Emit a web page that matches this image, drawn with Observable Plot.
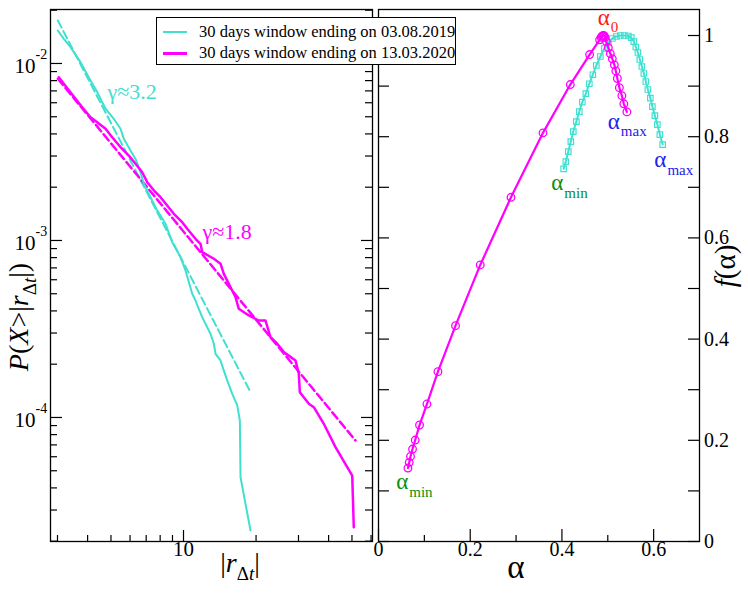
<!DOCTYPE html>
<html><head><meta charset="utf-8">
<script src="https://cdn.jsdelivr.net/npm/d3@7"></script>
<script src="https://cdn.jsdelivr.net/npm/@observablehq/plot@0.6"></script>
<style>
body{margin:0;background:#fff;}
#wrap{position:relative;width:748px;height:594px;background:#fff;font-family:"Liberation Serif","Times New Roman",serif;overflow:hidden;}
#wrap svg{position:absolute;top:0;overflow:visible;font-family:"Liberation Serif","Times New Roman",serif;}
#wrap svg text{font-family:"Liberation Serif","Times New Roman",serif;}
#legend{position:absolute;left:156px;top:17px;width:300px;height:48px;box-sizing:border-box;border:1.3px solid #000;background:#fff;font-family:"Liberation Serif","Times New Roman",serif;font-size:16.5px;}
.row{position:absolute;left:0;height:20px;width:100%;}
.sw{position:absolute;left:6px;width:24px;top:9px;}
.lt{position:absolute;left:42px;top:0;line-height:20px;white-space:nowrap;}
</style></head>
<body>
<div id="wrap"></div>
<script>
// ---------- data ----------
const series = ["30 days window ending on 03.08.2019", "30 days window ending on 13.03.2020"];
const CYAN = "#40E0D0", MAG = "#FF00FF";

// left panel: complementary cumulative distribution
const cdfX_2019 = [3.009,3.186,3.398,3.737,4.113,4.385,4.747,5.137,5.478,5.652,6.028,6.322,6.631,6.843,7.295,7.776,8.42,8.978,9.717,10.19,10.87,11.21,11.57,11.96,12.34,12.94,13.36,13.58,14.24,14.70,15.18,15.93,16.71,17.13,17.24,18.08,18.97];
const cdfP_2019 = [0.01536,0.01378,0.01236,0.01017,0.00802,0.00689,0.00555,0.00487,0.00428,0.00376,0.00322,0.00289,0.00243,0.00209,0.001756,0.00148,0.001243,0.000978,0.000805,0.000677,0.0005,0.000458,0.000411,0.000369,0.000338,0.000297,0.000261,0.000229,0.00021,0.000184,0.000162,0.000136,0.000117,9.62e-5,4.60e-5,3.25e-5,2.30e-5];
const cdfX_2020 = [3.038,3.186,3.564,3.799,4.113,4.385,4.747,5.059,5.478,5.93,6.322,6.739,7.07,7.529,8.027,8.557,9.116,9.876,10.36,11.21,11.76,11.96,13.36,14.24,14.70,15.42,16.44,16.96,18.66,20.53,21.89,22.96,24.48,26.08,29.15,30.09,30.38,33.11,34.73,38.21,42.72,50.12,50.88];
const cdfP_2020 = [0.00837,0.00768,0.00632,0.00566,0.00497,0.00466,0.00428,0.00383,0.00337,0.00302,0.00271,0.00243,0.002135,0.00192,0.001756,0.001577,0.001415,0.001269,0.001164,0.001022,0.000958,0.000859,0.000788,0.000739,0.000648,0.000569,0.000478,0.000411,0.000377,0.000353,0.000353,0.000284,0.000261,0.000234,0.00021,0.000177,0.000139,0.0001195,0.0001143,9.21e-5,6.80e-5,4.70e-5,2.40e-5];
// power-law fits (end points)
const fitX_2019 = [3.009, 18.97], fitP_2019 = [0.0175, 0.000139];
const fitX_2020 = [3.01, 51.7],  fitP_2020 = [0.0082, 7.41e-5];

// right panel: multifractal spectrum
const alpha_2019 = [0.4037,0.4085,0.4139,0.4194,0.4248,0.4314,0.4379,0.4445,0.4521,0.4597,0.4674,0.4750,0.4837,0.4924,0.5012,0.5099,0.5186,0.5274,0.5361,0.5448,0.5514,0.5568,0.5612,0.5656,0.5699,0.5743,0.5787,0.5830,0.5874,0.5928,0.5972,0.6027,0.6081,0.6136,0.6197];
const f_2019 = [0.7364,0.7508,0.7706,0.7904,0.8102,0.8299,0.8497,0.8685,0.8850,0.9047,0.9225,0.9407,0.9585,0.9743,0.9862,0.9941,0.9980,1.0000,1.0000,0.9990,0.9960,0.9881,0.9773,0.9664,0.9526,0.9387,0.9249,0.9091,0.8933,0.8764,0.8596,0.8418,0.8240,0.8042,0.7844];
const alpha_2020 = [0.0642,0.0670,0.0698,0.0742,0.0801,0.0895,0.1056,0.1296,0.168,0.2219,0.2889,0.3587,0.4183,0.4604,0.4822,0.4855,0.4875,0.4893,0.4910,0.4925,0.4940,0.4968,0.5012,0.5056,0.5099,0.5143,0.5176,0.5209,0.5252,0.5307,0.5350,0.5416];
const f_2020 = [0.1452,0.1562,0.1681,0.1827,0.2005,0.2302,0.2717,0.3356,0.4265,0.5466,0.6802,0.8076,0.9031,0.9624,0.9915,0.9965,0.9985,0.9997,1.0,0.9985,0.9960,0.988,0.976,0.964,0.954,0.942,0.930,0.915,0.897,0.881,0.865,0.849];

// ticks & labels
const yMajor = [1e-2, 1e-3, 1e-4], yExp = ["-2", "-3", "-4"];
const xMajorLeft = [10], xMajorLeftLabels = ["10"];
const fTicks = [0, 0.2, 0.4, 0.6, 0.8, 1], fLabels = ["0", "0.2", "0.4", "0.6", "0.8", "1"];
const fMinor = [0.1, 0.3, 0.5, 0.7, 0.9];
const aTicks = [0, 0.2, 0.4, 0.6], aLabels = ["0", "0.2", "0.4", "0.6"];
const aMinor = [0.1, 0.3, 0.5];

// annotations
const gammaNotes = [{x: 4.84, y: 0.00686, text: "γ≈3.2", c: CYAN}, {x: 11.99, y: 0.00111, text: "γ≈1.8", c: MAG}];
const alphaNotes = [
  {a: 0.4914, f: 1.0356, sub: "0", c: "#ff1a1a"},
  {a: 0.5132, f: 0.830, sub: "max", c: "#2222ee"},
  {a: 0.6147, f: 0.7538, sub: "max", c: "#2222ee"},
  {a: 0.3899, f: 0.7083, sub: "min", c: "#0b8f0b"},
  {a: 0.0517, f: 0.1181, sub: "min", c: "#0b8f0b"}
];

// ---------- build ----------
const zip = (xs, ys) => xs.map((x, i) => ({x, y: ys[i]}));
const FONT = "'Liberation Serif', 'Times New Roman', Times, serif";
const minorLog = [];
for (const e of [-5, -4, -3, -2]) for (let m = 2; m <= 9; m++) minorLog.push(m * 10 ** e);
const minorX = [];
for (let m = 3; m <= 9; m++) minorX.push(m);
for (let m = 2; m <= 6; m++) minorX.push(m * 10);

const WL = 380, LML = 50, LMR = 8, PWL = WL - LML - LMR;
const yDom = [1.992e-5, 0.02018];
const left = Plot.plot({
  width: WL, height: 594, marginLeft: LML, marginRight: LMR, marginTop: 9, marginBottom: 53,
  style: {background: "transparent", overflow: "visible", fontFamily: FONT},
  x: {type: "log", domain: [2.806, 60.84], axis: null},
  y: {type: "log", domain: yDom, axis: null},
  marks: [
    Plot.line(zip(fitX_2019, fitP_2019), {x: "x", y: "y", stroke: CYAN, strokeWidth: 2, strokeDasharray: "8,4"}),
    Plot.line(zip(fitX_2020, fitP_2020), {x: "x", y: "y", stroke: MAG, strokeWidth: 2.5, strokeDasharray: "8,4"}),
    Plot.line(zip(cdfX_2019, cdfP_2019), {x: "x", y: "y", stroke: CYAN, strokeWidth: 2}),
    Plot.line(zip(cdfX_2020, cdfP_2020), {x: "x", y: "y", stroke: MAG, strokeWidth: 2.5}),
    Plot.tickY(minorLog.filter(d => d > yDom[0] && d < yDom[1]), {y: d => d, insetRight: PWL - 7, stroke: "#000", strokeWidth: 1.2}),
    Plot.tickY(minorLog.filter(d => d > yDom[0] && d < yDom[1]), {y: d => d, insetLeft: PWL - 7, stroke: "#000", strokeWidth: 1.2}),
    Plot.tickY(yMajor, {y: d => d, insetRight: PWL - 12, stroke: "#000", strokeWidth: 1.2}),
    Plot.tickY(yMajor, {y: d => d, insetLeft: PWL - 11, stroke: "#000", strokeWidth: 1.2}),
    Plot.tickX(minorX, {x: d => d, insetTop: 532 - 6, stroke: "#000", strokeWidth: 1.2}),
    Plot.tickX(xMajorLeft, {x: d => d, insetTop: 532 - 11, stroke: "#000", strokeWidth: 1.2}),
    Plot.frame({stroke: "#000", strokeWidth: 1.3}),
    Plot.text(yMajor, {y: d => d, frameAnchor: "left", text: () => "10", textAnchor: "end", dx: -15, dy: 3, fontSize: 21, fill: "#000", fontFamily: FONT}),
    Plot.text(yMajor, {y: d => d, frameAnchor: "left", text: (d, i) => yExp[i], textAnchor: "start", dx: -15, dy: -9, fontSize: 14, fill: "#000", fontFamily: FONT}),
    Plot.text(xMajorLeft, {x: d => d, frameAnchor: "bottom", text: (d, i) => xMajorLeftLabels[i], dy: 14, fontSize: 21, fill: "#000", fontFamily: FONT}),
    Plot.text(gammaNotes, {x: "x", y: "y", text: "text", fill: "c", textAnchor: "start", fontSize: 22, fontFamily: FONT})
  ]
});

const WR = 378, RML = 8, RMR = 49, PWR = WR - RML - RMR;
const right = Plot.plot({
  width: WR, height: 594, marginLeft: RML, marginRight: RMR, marginTop: 9, marginBottom: 53,
  style: {background: "transparent", overflow: "visible", fontFamily: FONT},
  x: {domain: [0, 0.7], axis: null},
  y: {domain: [0, 1.0514], axis: null},
  marks: [
    Plot.line(zip(alpha_2019, f_2019), {x: "x", y: "y", stroke: CYAN, strokeWidth: 2}),
    Plot.dot(zip(alpha_2019, f_2019), {x: "x", y: "y", symbol: "square", r: 3.1, stroke: CYAN, fill: "none", strokeWidth: 1.2}),
    Plot.line(zip(alpha_2020, f_2020), {x: "x", y: "y", stroke: MAG, strokeWidth: 2.2}),
    Plot.dot(zip(alpha_2020, f_2020), {x: "x", y: "y", r: 3.8, stroke: MAG, fill: "none", strokeWidth: 1.3}),
    Plot.tickY(fTicks.concat(fMinor), {y: d => d, insetLeft: PWR - 11, stroke: "#000", strokeWidth: 1.2}),
    Plot.tickY(fTicks.concat(fMinor), {y: d => d, insetRight: PWR - 11, stroke: "#000", strokeWidth: 1.2}),
    Plot.tickX(aTicks, {x: d => d, insetTop: 532 - 12, stroke: "#000", strokeWidth: 1.2}),
    Plot.tickX(aMinor, {x: d => d, insetTop: 532 - 6, stroke: "#000", strokeWidth: 1.2}),
    Plot.frame({stroke: "#000", strokeWidth: 1.3}),
    Plot.text(fTicks, {y: d => d, frameAnchor: "right", text: (d, i) => fLabels[i], textAnchor: "start", dx: 4.5, fontSize: 20, fill: "#000", fontFamily: FONT}),
    Plot.text(aTicks, {x: d => d, frameAnchor: "bottom", text: (d, i) => aLabels[i], dy: 14, fontSize: 20, fill: "#000", fontFamily: FONT}),
    Plot.text(alphaNotes, {x: "a", y: "f", text: () => "α", fill: "c", fontSize: 23, fontFamily: FONT}),
    Plot.text(alphaNotes, {x: "a", y: "f", text: "sub", fill: "c", fontSize: 15, textAnchor: "start", dx: 7, dy: 10, fontFamily: FONT})
  ]
});

const wrap = document.getElementById("wrap");
left.style.left = "0px";
right.style.left = "370px";
wrap.appendChild(left);
wrap.appendChild(right);

// axis titles
function title(svg, x, y, rot, size, parts) {
  const g = d3.select(svg).append("text")
    .attr("transform", `translate(${x},${y})` + (rot ? " rotate(-90)" : ""))
    .attr("text-anchor", "middle").attr("font-size", size).attr("fill", "#000")
    .style("font-family", FONT);
  for (const p of parts) {
    const t = g.append("tspan").text(p.t);
    if (p.i) t.attr("font-style", "italic");
    if (p.s) t.attr("font-size", p.s);
    if (p.dy) t.attr("dy", p.dy);
  }
}
title(left, 240, 572, false, 28, [{t: "|"}, {t: "r", i: 1}, {t: "Δ", s: 19, dy: 8}, {t: "t", i: 1, s: 19}, {t: "|", dy: -8}]);
title(left, 28, 317, true, 28, [{t: "P", i: 1}, {t: "("}, {t: "X", i: 1}, {t: ">|"}, {t: "r", i: 1}, {t: "Δ", s: 19, dy: 8}, {t: "t", i: 1, s: 19}, {t: "|)", dy: -8}]);
title(right, 146, 578, false, 33, [{t: "α"}]);
title(right, 365, 266, true, 29, [{t: "f", i: 1}, {t: "(α)"}]);

// legend
const lg = document.createElement("div");
lg.id = "legend";
series.forEach((s, i) => {
  const row = document.createElement("div");
  row.className = "row";
  row.style.top = (4 + i * 20.5) + "px";
  const sw = document.createElement("div");
  sw.className = "sw";
  sw.style.borderTop = (i === 0 ? 2 : 3) + "px solid " + (i === 0 ? CYAN : MAG);
  const lt = document.createElement("div");
  lt.className = "lt";
  lt.textContent = s;
  row.appendChild(sw); row.appendChild(lt);
  lg.appendChild(row);
});
wrap.appendChild(lg);
</script>
</body></html>
